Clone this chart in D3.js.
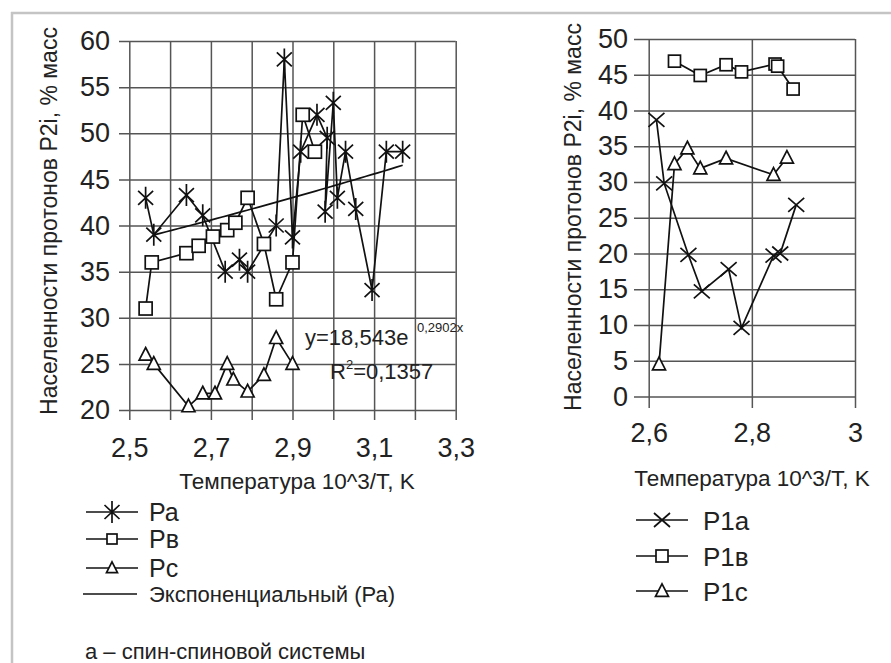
<!DOCTYPE html>
<html><head><meta charset="utf-8">
<script src="https://cdn.jsdelivr.net/npm/d3@7/dist/d3.min.js"></script>
<style>
body{margin:0;background:#fff;}
svg{display:block;font-family:"Liberation Sans",Arial,sans-serif;}
</style></head>
<body><svg id="c" width="891" height="663"></svg>
<script>
// ---- data: left chart (spin-spin system) ----
const paX = [2.54,2.56,2.64,2.68,2.735,2.77,2.79,2.86,2.88,2.90,2.92,2.96,2.985,2.98,3.00,3.01,3.03,3.055,3.095,3.13,3.17];
const paY = [43,39,43.3,41.1,35,36.3,35,40,58,38.7,48,52,49.5,41.5,53.3,43,48,41.8,33,48,48];
const pvX = [2.54,2.555,2.64,2.67,2.705,2.74,2.76,2.79,2.83,2.86,2.90,2.925,2.955];
const pvY = [31,36,37,37.8,38.8,39.5,40.3,43,38,32,36,52,48];
const pcX = [2.54,2.56,2.645,2.68,2.71,2.74,2.755,2.79,2.83,2.86,2.90];
const pcY = [26,25,20.4,21.8,21.8,25,23.3,22,23.8,27.8,25];
// exponential trend (Pa): y = a*e^(b x)
const trendA = 18.543, trendB = 0.2902, trendFrom = 2.56, trendTo = 3.17;
const leftXGrid = [2.5,2.6,2.7,2.8,2.9,3.0,3.1,3.2,3.3];
const leftXLabels = [2.5,2.7,2.9,3.1,3.3];
const leftYTicks = [20,25,30,35,40,45,50,55,60];
const leftLegend = ["Ра","Рв","Рс"];
const trendLegend = "Экспоненциальный (Ра)";
// ---- data: right chart ----
const p1aX = [2.615,2.63,2.677,2.703,2.755,2.78,2.842,2.855,2.886];
const p1aY = [38.7,29.8,19.8,14.7,17.8,9.6,19.7,20,26.8];
const p1vX = [2.65,2.70,2.75,2.78,2.845,2.85,2.88];
const p1vY = [46.9,44.9,46.4,45.4,46.5,46.2,43];
const p1cX = [2.62,2.65,2.675,2.70,2.75,2.842,2.868];
const p1cY = [4.5,32.5,34.7,31.9,33.3,31,33.4];
const rightXTicks = [2.6,2.8,3.0];
const rightYTicks = [0,5,10,15,20,25,30,35,40,45,50];
const rightLegend = ["P1a","P1в","P1c"];
const yTitle = "Населенности протонов P2i, % масс";
const xTitle = "Температура 10^3/T, K";
const caption = "а – спин-спиновой системы";

const svg = d3.select("#c");
const fmt = v => String(+v.toFixed(1)).replace(".", ",");
const zip = (xs, ys) => xs.map((x,i)=>[x, ys[i]]);

// frame
svg.append("line").attr("x1",11).attr("x2",891).attr("y1",13).attr("y2",13).attr("stroke","#c4c4c4").attr("stroke-width",2.5);
svg.append("line").attr("x1",12).attr("x2",12).attr("y1",12).attr("y2",663).attr("stroke","#c4c4c4").attr("stroke-width",2.5);

const MARK = {
  star: g => g.append("path").attr("d","M-7.5,-7L7.5,7M-7.5,7L7.5,-7M0,-11L0,11").attr("stroke","#111").attr("stroke-width",1.7).attr("fill","none"),
  cross: g => g.append("path").attr("d","M-8,-7L8,7M-8,7L8,-7").attr("stroke","#111").attr("stroke-width",1.7).attr("fill","none"),
  square: (g,s) => g.append("rect").attr("x",-s/2).attr("y",-s/2).attr("width",s).attr("height",s).attr("fill","#fff").attr("stroke","#111").attr("stroke-width",1.7),
  tri: (g,s) => g.append("path").attr("d",`M0,${-s*0.55}L${s/2},${s*0.42}L${-s/2},${s*0.42}Z`).attr("fill","#fff").attr("stroke","#111").attr("stroke-width",1.7)
};

function drawSeries(g, x, y, pts, mk, size){
  g.append("path").datum(pts)
    .attr("d", d3.line().x(d=>x(d[0])).y(d=>y(d[1])))
    .attr("fill","none").attr("stroke","#111").attr("stroke-width",1.7);
  g.selectAll(null).data(pts).enter().append("g")
    .attr("transform", d=>`translate(${x(d[0])},${y(d[1])})`)
    .each(function(){ MARK[mk](d3.select(this), size); });
}

function styleAxis(g, fs){
  g.select(".domain").remove();
  g.selectAll(".tick line").attr("stroke","#555").attr("stroke-width",1.5);
  g.selectAll(".tick text").attr("fill","#222").style("font-size",fs+"px").style("font-family","'Liberation Sans',Arial,sans-serif");
}

// ================= LEFT CHART =================
const xL = d3.scaleLinear().domain([2.5,3.3]).range([129.3,455.7]);
const yL = d3.scaleLinear().domain([20,60]).range([410,41]);
const gL = svg.append("g");
gL.append("g").attr("transform","translate(0,420)")
  .call(d3.axisBottom(xL).tickValues(leftXGrid).tickSizeInner(-(420-41)).tickSizeOuter(0).tickPadding(18)
    .tickFormat(v => leftXLabels.some(l=>Math.abs(l-v)<1e-9) ? fmt(v) : ""))
  .call(g=>styleAxis(g,27));
gL.append("g").attr("transform","translate(119,0)")
  .call(d3.axisLeft(yL).tickValues(leftYTicks).tickSizeInner(-(455.7-119)).tickSizeOuter(0).tickPadding(9).tickFormat(d3.format("d")))
  .call(g=>styleAxis(g,27));

drawSeries(gL, xL, yL, zip(paX,paY), "star");
drawSeries(gL, xL, yL, zip(pvX,pvY), "square", 13);
drawSeries(gL, xL, yL, zip(pcX,pcY), "tri", 13);
// trend curve
const trendPts = d3.range(0, 41).map(i => { const xv = trendFrom + (trendTo-trendFrom)*i/40; return [xv, trendA*Math.exp(trendB*xv)]; });
gL.append("path").datum(trendPts).attr("d", d3.line().x(d=>xL(d[0])).y(d=>yL(d[1])))
  .attr("fill","none").attr("stroke","#111").attr("stroke-width",1.7);
// equation
gL.append("text").attr("x",305).attr("y",345).attr("fill","#222").style("font-size","22px").text("y=18,543e");
gL.append("text").attr("x",417).attr("y",332).attr("fill","#222").style("font-size","13px").text("0,2902x");
const r2 = gL.append("text").attr("x",330).attr("y",379).attr("fill","#222").style("font-size","22px");
r2.append("tspan").text("R");
r2.append("tspan").attr("dy",-10).style("font-size","13px").text("2");
r2.append("tspan").attr("dy",10).text("=0,1357");

// titles
svg.append("text").attr("transform","translate(57,221) rotate(-90)").attr("text-anchor","middle")
  .attr("fill","#222").style("font-size","23px").text(yTitle);
svg.append("text").attr("x",297).attr("y",489).attr("text-anchor","middle")
  .attr("fill","#222").style("font-size","22.5px").text(xTitle);

// left legend
const legL = svg.append("g");
const legLY = [512,539,568];
const legLMk = ["star","square","tri"];
const legLSz = [0,10,11];
leftLegend.forEach((name,i)=>{
  legL.append("line").attr("x1",86).attr("x2",138).attr("y1",legLY[i]).attr("y2",legLY[i]).attr("stroke","#111").attr("stroke-width",1.6);
  const m = legL.append("g").attr("transform",`translate(112,${legLY[i]})`);
  MARK[legLMk[i]](m, legLSz[i]);
  legL.append("text").attr("x",149).attr("y",legLY[i]+9).attr("fill","#222").style("font-size","25px").text(name);
});
legL.append("line").attr("x1",83).attr("x2",137).attr("y1",594).attr("y2",594).attr("stroke","#111").attr("stroke-width",1.6);
legL.append("text").attr("x",149).attr("y",602).attr("fill","#222").style("font-size","22px").text(trendLegend);
svg.append("text").attr("x",85).attr("y",659).attr("fill","#222").style("font-size","22px").text(caption);

// ================= RIGHT CHART =================
const xR = d3.scaleLinear().domain([2.6,3.0]).range([648.7,855]);
const yR = d3.scaleLinear().domain([0,50]).range([396.5,39]);
const gR = svg.append("g");
gR.append("g").attr("transform","translate(0,408)")
  .call(d3.axisBottom(xR).tickValues(rightXTicks).tickSizeInner(-(408-39)).tickSizeOuter(0).tickPadding(15).tickFormat(fmt))
  .call(g=>styleAxis(g,27));
gR.append("g").attr("transform","translate(634,0)")
  .call(d3.axisLeft(yR).tickValues(rightYTicks).tickSizeInner(-(855-634)).tickSizeOuter(0).tickPadding(6).tickFormat(d3.format("d")))
  .call(g=>styleAxis(g,27));

drawSeries(gR, xR, yR, zip(p1aX,p1aY), "cross");
drawSeries(gR, xR, yR, zip(p1vX,p1vY), "square", 12);
drawSeries(gR, xR, yR, zip(p1cX,p1cY), "tri", 13);

svg.append("text").attr("transform","translate(581,217) rotate(-90)").attr("text-anchor","middle")
  .attr("fill","#222").style("font-size","23px").text(yTitle);
svg.append("text").attr("x",752).attr("y",486).attr("text-anchor","middle")
  .attr("fill","#222").style("font-size","22.5px").text(xTitle);

const legR = svg.append("g");
const legRY = [520,556,591];
const legRMk = ["cross","square","tri"];
const legRSz = [0,12,13];
rightLegend.forEach((name,i)=>{
  legR.append("line").attr("x1",636).attr("x2",688).attr("y1",legRY[i]).attr("y2",legRY[i]).attr("stroke","#111").attr("stroke-width",1.6);
  const m = legR.append("g").attr("transform",`translate(662,${legRY[i]})`);
  MARK[legRMk[i]](m, legRSz[i]);
  legR.append("text").attr("x",703).attr("y",legRY[i]+10).attr("fill","#222").style("font-size","26px").text(name);
});
</script>
</body></html>
